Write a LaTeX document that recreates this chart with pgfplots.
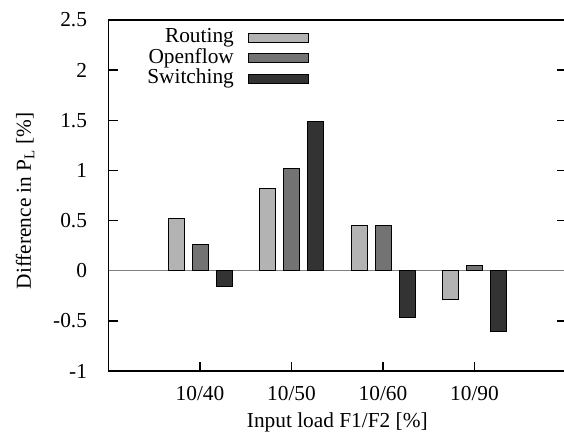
\documentclass[border=0pt]{standalone}
\usepackage{fontspec}
\setmainfont{Liberation Serif}
\usepackage{pgfplots}
\pgfplotsset{compat=1.18}
\definecolor{routing}{HTML}{B3B3B3}
\definecolor{openflow}{HTML}{737373}
\definecolor{switching}{HTML}{333333}
\begin{document}
\begin{tikzpicture}[font=\fontsize{16}{18}\selectfont]
\begin{axis}[
  name=ax,
  scale only axis,
  width=343.1pt, height=263.25pt,
  xmin=-1, xmax=4, ymin=-1, ymax=2.5,
  axis line style={line width=1.1pt},
  ybar, bar width=12pt,
  xtick={0,1,2,3},
  xticklabels={10/40,10/50,10/60,10/90},
  ytick={-1,-0.5,0,0.5,1,1.5,2,2.5},
  yticklabels={-1,-0.5,0,0.5,1,1.5,2,2.5},
  xtick pos=bottom, ytick pos=both,
  tick align=inside,
  major tick length=7pt,
  tick style={line width=1pt, black},
  /pgf/number format/assume math mode=true,
  xticklabel style={anchor=base, yshift=-22.5pt},
  yticklabel style={anchor=east, inner sep=0pt, xshift=-16pt},
  xlabel={Input load F1/F2 [\%]},
  ylabel={Difference in P\textsubscript{L} [\%]},
  xlabel style={at={(axis description cs:0.5,-0.145)}, anchor=center},
  ylabel style={at={(axis description cs:-0.1825,0.485)}, anchor=center},
  extra y ticks={0},
  extra y tick labels={},
  extra y tick style={grid=major, major grid style={gray, line width=0.8pt}, major tick length=0pt},
  legend style={at={(axis description cs:0.438,0.978)}, anchor=north east,
    draw=none, fill=none, inner sep=0pt, row sep=0.9pt, column sep=10.5pt,
    nodes={inner sep=0pt, text height=11pt, text depth=3.5pt}},
  legend cell align=right,
  legend plot pos=right,
  legend image code/.code={\draw[#1, line width=0.6pt] (0pt,-3.4pt) rectangle (45pt,3.4pt);},
]
\addplot[fill=routing, draw=black, line width=0.6pt, bar shift=-18pt] coordinates {
  (0,0.52) (1,0.82) (2,0.45) (3,-0.285)
};
\addlegendentry{Routing}
\addplot[fill=openflow, draw=black, line width=0.6pt, bar shift=0pt] coordinates {
  (0,0.26) (1,1.02) (2,0.455) (3,0.05)
};
\addlegendentry{Openflow}
\addplot[fill=switching, draw=black, line width=0.6pt, bar shift=18pt] coordinates {
  (0,-0.16) (1,1.49) (2,-0.47) (3,-0.61)
};
\addlegendentry{Switching}
\end{axis}
\pgfresetboundingbox
\path (ax.south west) ++(-81.4pt,-47.25pt) rectangle ++(423pt,325.5pt);
\end{tikzpicture}
\end{document}
